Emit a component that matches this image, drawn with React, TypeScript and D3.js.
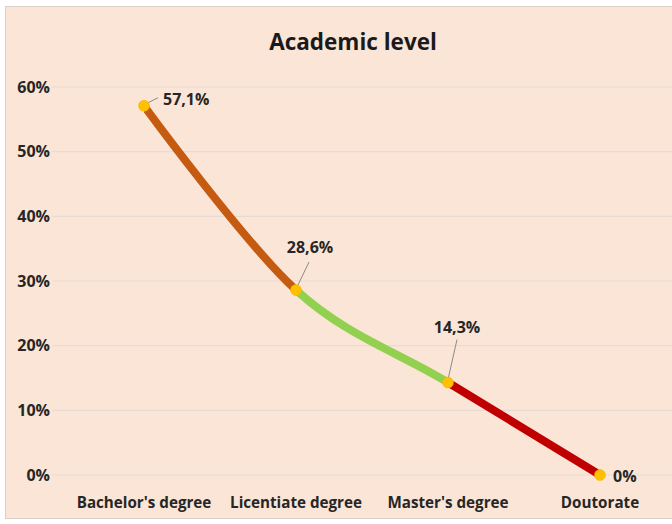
import React from "react";
import * as d3 from "d3";

const categories = ["Bachelor's degree", "Licentiate degree", "Master's degree", "Doutorate"];
const values = [57.1, 28.6, 14.3, 0];
const valueLabels = ["57,1%", "28,6%", "14,3%", "0%"];
const yTicks = [0, 10, 20, 30, 40, 50, 60];
const segmentColors = ["#C55A11", "#92D050", "#C00000"];

const W = 672;
const H = 524;
const FONT = "'Open Sans', 'Liberation Sans', sans-serif";

export default function App() {
  const x = d3.scalePoint<string>().domain(categories).range([144, 600]);
  const y = d3.scaleLinear().domain([0, 60]).range([475, 87]);

  const pts: [number, number][] = categories.map((c, i) => [x(c) as number, y(values[i])]);
  const line = d3.line().curve(d3.curveCardinal.tension(0));
  const path = line(pts) as string;

  // label placement relative to each point
  const labelOffsets = [
    { dx: 19, dy: -6, anchor: "start", leader: [[4, -3], [14, -8]] },
    { dx: 14, dy: -43, anchor: "middle", leader: [[1, -3], [13, -28]] },
    { dx: 9, dy: -55, anchor: "middle", leader: [[0, -3], [9, -43]] },
    { dx: 13, dy: 1, anchor: "start", leader: null },
  ];

  return (
    <div style={{ position: "fixed", left: 0, top: 0 }}>
      <svg width={W} height={H} style={{ display: "block" }}>
        <rect x={0} y={0} width={W} height={H} fill="#ffffff" />
        <rect x={5.5} y={6.5} width={W + 10} height={512} fill="#FBE5D6" stroke="#D9D0CA" strokeWidth={1} />
        <defs>
          {pts.slice(0, -1).map((p, i) => (
            <clipPath id={`seg${i}`} key={i}>
              <rect x={p[0]} y={0} width={pts[i + 1][0] - p[0]} height={H} />
            </clipPath>
          ))}
        </defs>
        <text x={353} y={50} textAnchor="middle" fontFamily={FONT} fontWeight="bold" fontSize={22.5} fill="#1a1a1a">
          Academic level
        </text>
        {yTicks.map((t) => (
          <g key={t}>
            <line x1={52} x2={W} y1={y(t)} y2={y(t)} stroke="#E6DCD5" strokeWidth={1.2} />
            <text x={50} y={y(t)} dy="0.35em" textAnchor="end" fontFamily={FONT} fontWeight="bold" fontSize={16} fill="#262626">
              {t}%
            </text>
          </g>
        ))}
        {categories.map((c) => (
          <text key={c} x={x(c) as number} y={508} textAnchor="middle" fontFamily={FONT} fontWeight="bold" fontSize={15.2} fill="#262626">
            {c}
          </text>
        ))}
        {segmentColors.map((col, i) => (
          <path key={i} d={path} fill="none" stroke={col} strokeWidth={8} clipPath={`url(#seg${i})`} />
        ))}
        {pts.map((p, i) => {
          const o = labelOffsets[i];
          return (
            <g key={i}>
              {o.leader && (
                <line
                  x1={p[0] + o.leader[0][0]}
                  y1={p[1] + o.leader[0][1]}
                  x2={p[0] + o.leader[1][0]}
                  y2={p[1] + o.leader[1][1]}
                  stroke="#8C8C8C"
                  strokeWidth={1}
                />
              )}
              <circle cx={p[0]} cy={p[1]} r={5.5} fill="#FFC000" stroke="#F2B200" strokeWidth={0.5} />
              <text x={p[0] + o.dx} y={p[1] + o.dy} dy="0.35em" textAnchor={o.anchor as any} fontFamily={FONT} fontWeight="bold" fontSize={16} fill="#262626">
                {valueLabels[i]}
              </text>
            </g>
          );
        })}
      </svg>
    </div>
  );
}
